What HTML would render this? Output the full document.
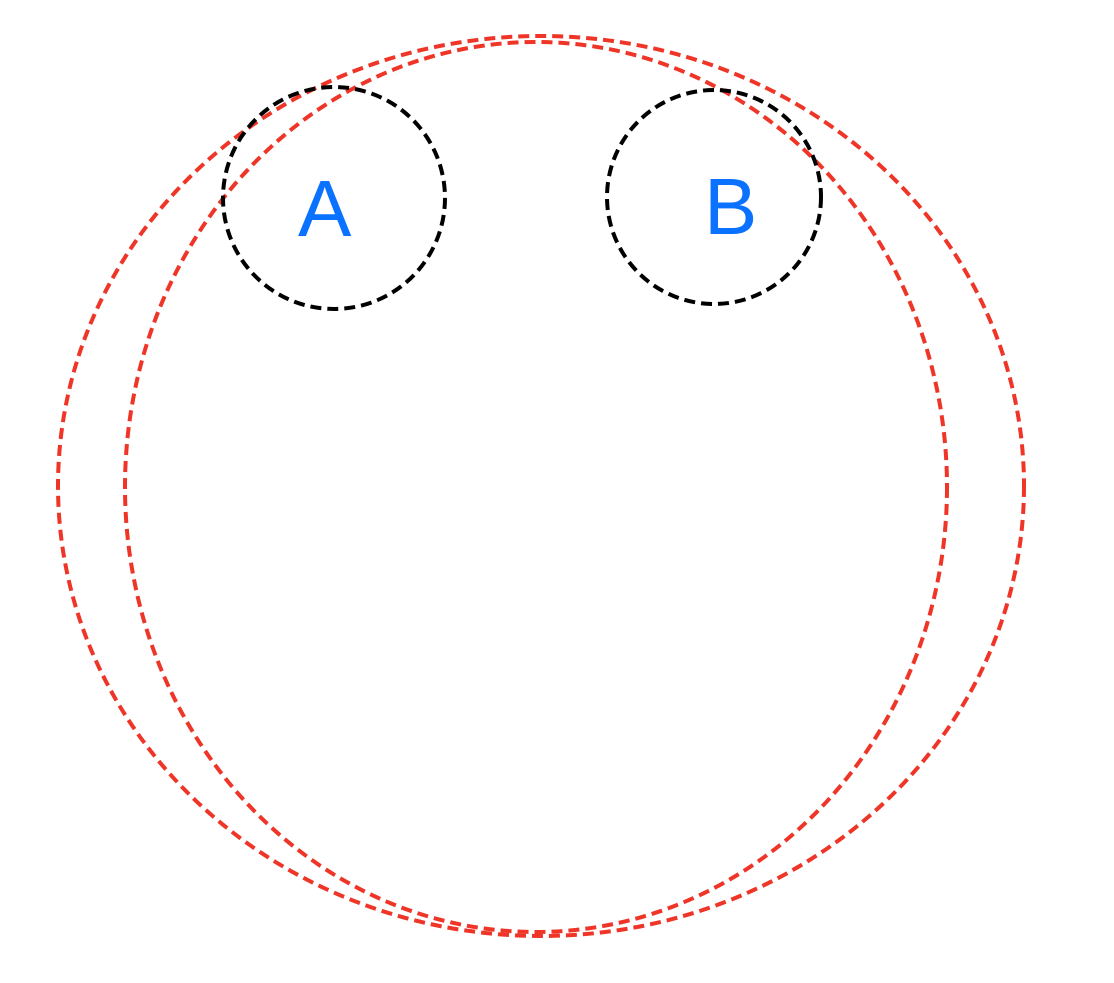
<!DOCTYPE html>
<html><head><meta charset="utf-8"><style>
html,body{margin:0;padding:0;background:#fff;width:1114px;height:983px;overflow:hidden}
svg{display:block}
text{font-family:"Liberation Sans",sans-serif;fill:#0a72ff}
</style></head><body>
<svg width="1114" height="983" viewBox="0 0 1114 983">
<g fill="none" stroke-width="4" stroke-dasharray="11 6">
<ellipse cx="541" cy="486" rx="483" ry="450" stroke="#ee3527"/>
<ellipse cx="536" cy="487" rx="411" ry="445" stroke="#ee3527"/>
<ellipse cx="334" cy="198" rx="111" ry="111" stroke="#000"/>
<ellipse cx="714" cy="197" rx="107" ry="107" stroke="#000"/>
</g>
<text x="298" y="236" font-size="80">A</text>
<text x="704" y="234" font-size="80">B</text>
</svg>
</body></html>
